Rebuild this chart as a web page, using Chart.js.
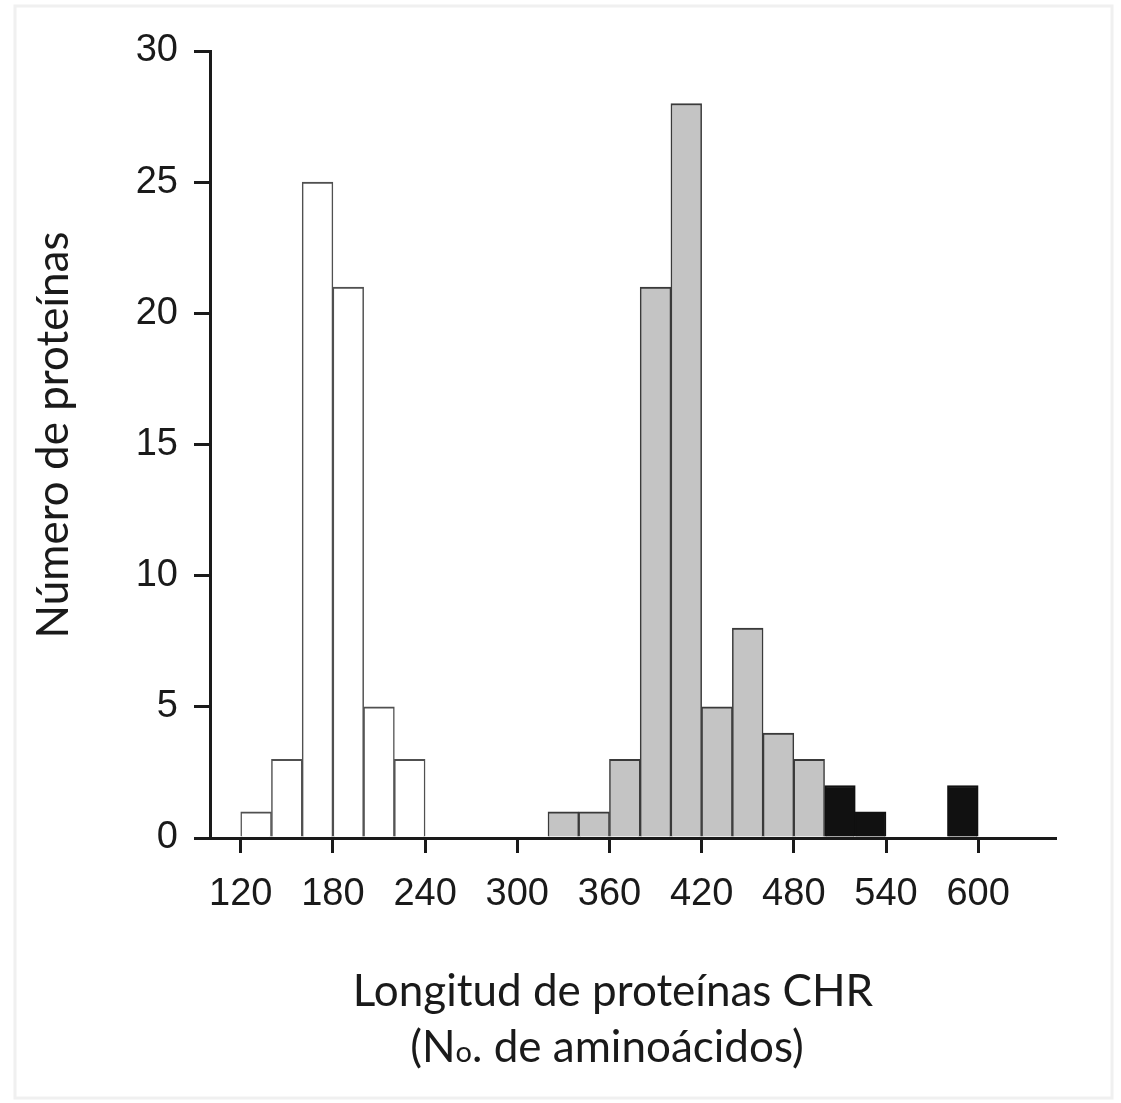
<!DOCTYPE html>
<html>
<head>
<meta charset="utf-8">
<script src="https://cdn.jsdelivr.net/npm/chart.js@4"></script>
<style>
  body { margin: 0; background: #fff; }
  #wrap { width: 1121px; height: 1103px; position: relative; }
</style>
</head>
<body>
<div id="wrap"><canvas id="myChart"></canvas></div>
<script>
// histogram data: bin starts (amino acids) and counts
const whiteBins = [120, 140, 160, 180, 200, 220];
const whiteCounts = [1, 3, 25, 21, 5, 3];
const grayBins = [320, 340, 360, 380, 400, 420, 440, 460, 480];
const grayCounts = [1, 1, 3, 21, 28, 5, 8, 4, 3];
const blackBins = [500, 520, 580];
const blackCounts = [2, 1, 2];
const binWidth = 20;

const xTickValues = [120, 180, 240, 300, 360, 420, 480, 540, 600];
const yTickStep = 5;

const yTitle = 'Número de proteínas';
const xTitle1 = 'Longitud de proteínas CHR';
const xTitle2 = ['(N', 'o', '. de aminoácidos)'];

const toPoints = (bins, counts) => bins.map((b, i) => ({ x: b + binWidth / 2, y: counts[i] }));

const tickFont = { family: '"Liberation Sans", Arial, sans-serif', size: 38 };
const inkColor = '#1a1a1a';

// frame + titles drawn by hand
const titlesPlugin = {
  id: 'titles',
  beforeDraw(chart) {
    const ctx = chart.ctx;
    ctx.save();
    ctx.strokeStyle = '#f0f0f0';
    ctx.lineWidth = 3;
    ctx.strokeRect(15, 6, 1097, 1092);
    ctx.restore();
  },
  afterDraw(chart) {
    const ctx = chart.ctx;
    ctx.save();
    ctx.fillStyle = inkColor;
    ctx.font = '44px Lato, sans-serif';
    ctx.textBaseline = 'alphabetic';

    // y title
    ctx.save();
    ctx.translate(68, 435);
    ctx.rotate(-Math.PI / 2);
    ctx.textAlign = 'center';
    ctx.fillText(yTitle, 0, 0);
    ctx.restore();

    // x title, line 1
    ctx.textAlign = 'center';
    ctx.fillText(xTitle1, 613, 1006);

    // x title, line 2 with small "o"
    ctx.textAlign = 'left';
    const big = '44px Lato, sans-serif';
    const small = '29px Lato, sans-serif';
    ctx.font = big;
    const w1 = ctx.measureText(xTitle2[0]).width;
    const w3 = ctx.measureText(xTitle2[2]).width;
    ctx.font = small;
    const w2 = ctx.measureText(xTitle2[1]).width;
    let x = 607 - (w1 + w2 + w3) / 2;
    ctx.font = big;
    ctx.fillText(xTitle2[0], x, 1062);
    x += w1;
    ctx.font = small;
    ctx.fillText(xTitle2[1], x, 1062);
    x += w2;
    ctx.font = big;
    ctx.fillText(xTitle2[2], x, 1062);
    ctx.restore();
  }
};

const barStyle = {
  barPercentage: 1,
  categoryPercentage: 1,
  grouped: false,
  borderSkipped: 'bottom',
  borderWidth: { top: 2, left: 1.5, right: 1.5, bottom: 0 }
};

const ctx = document.getElementById('myChart');

const myChart = new Chart(ctx, {
  type: 'bar',
  data: {
    datasets: [
      { label: 'white', data: toPoints(whiteBins, whiteCounts), backgroundColor: '#ffffff', borderColor: '#505050', ...barStyle },
      { label: 'gray', data: toPoints(grayBins, grayCounts), backgroundColor: '#c4c4c4', borderColor: '#3a3a3a', ...barStyle },
      { label: 'black', data: toPoints(blackBins, blackCounts), backgroundColor: '#111111', borderColor: '#111111', ...barStyle }
    ]
  },
  options: {
    responsive: true,
    maintainAspectRatio: false,
    animation: false,
    events: [],
    layout: { padding: { left: 0, right: 66, top: 51, bottom: 0 } },
    plugins: {
      legend: { display: false },
      tooltip: { enabled: false }
    },
    scales: {
      x: {
        type: 'linear',
        min: 100,
        max: 650,
        offset: false,
        afterBuildTicks: (scale) => {
          scale.ticks = xTickValues.map(v => ({ value: v }));
        },
        afterFit: (scale) => { scale.height = 265; },
        ticks: { font: tickFont, color: inkColor, padding: 19, maxRotation: 0, autoSkip: false },
        grid: { offset: false, drawOnChartArea: false, drawTicks: true, tickLength: 15, lineWidth: 3, color: inkColor },
        border: { display: true, color: inkColor, width: 3 }
      },
      y: {
        min: 0,
        max: 30,
        afterFit: (scale) => { scale.width = 210; },
        ticks: { stepSize: yTickStep, font: tickFont, color: inkColor, padding: 16 },
        grid: { drawOnChartArea: false, drawTicks: true, tickLength: 16, lineWidth: 3, color: inkColor },
        border: { display: true, color: inkColor, width: 3 }
      }
    }
  },
  plugins: [titlesPlugin]
});
</script>
</body>
</html>
